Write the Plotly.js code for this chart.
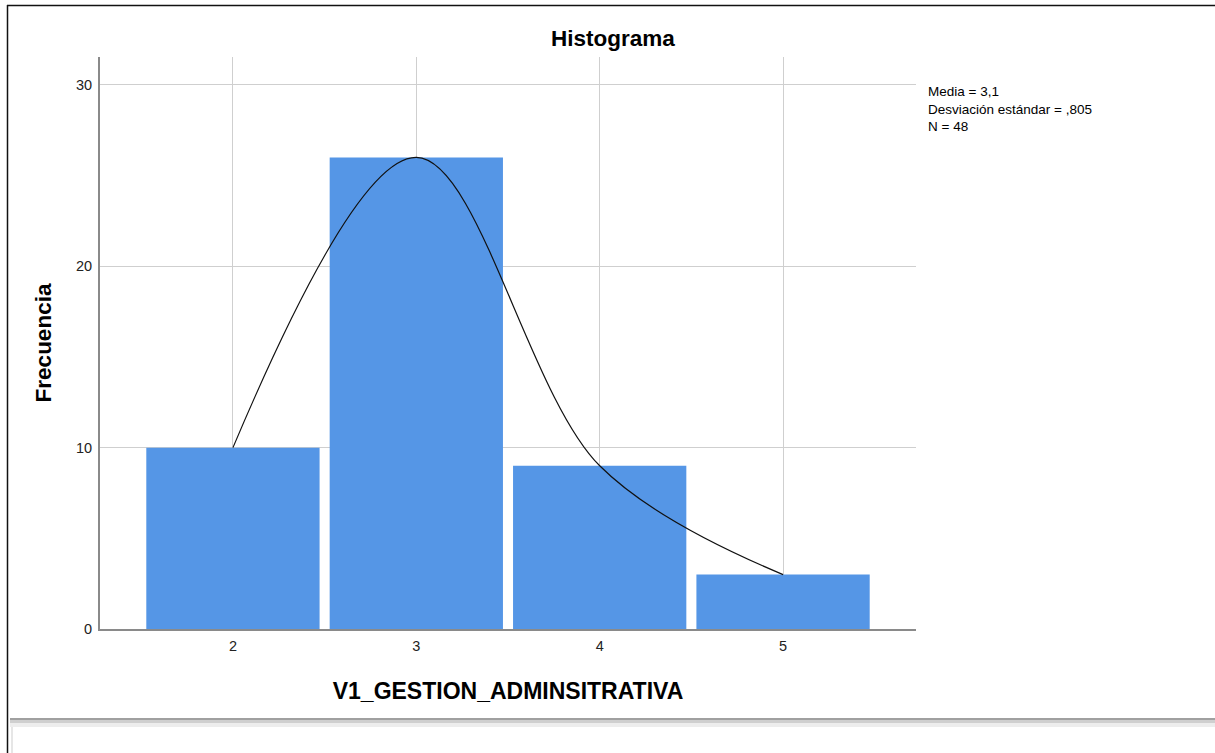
<!DOCTYPE html>
<html>
<head>
<meta charset="utf-8">
<script src="https://cdn.plot.ly/plotly-3.0.1.min.js"></script>
<style>html,body{margin:0;padding:0;background:#fff;}#chart{width:1215px;height:753px;}</style>
</head>
<body>
<div id="chart"></div>
<script>
// Data
const categories = [2, 3, 4, 5];
const frequencies = [10, 26, 9, 3];
const curveX = [2, 3, 4, 5];
const curveY = [10, 26, 9, 3];
const yTicks = [0, 10, 20, 30];
const statsLines = ["Media = 3,1", "Desviación estándar = ,805", "N = 48"];

const L = 100, R = 916, T = 57, B = 629;
const W = 1215, H = 753;
const px = x => (x - L) / (R - L);
const py = y => (B - y) / (B - T);

const traces = [
  {
    type: 'bar', x: categories, y: frequencies, width: 0.945,
    marker: {color: '#5596e6', line: {width: 0}},
    hoverinfo: 'x+y'
  },
  {
    type: 'scatter', mode: 'lines', x: curveX, y: curveY,
    line: {color: '#111', width: 1.2, shape: 'spline', smoothing: 1.0},
    hoverinfo: 'skip'
  }
];

const FF = 'Liberation Sans, Arial, sans-serif';

const layout = {
  width: W, height: H,
  margin: {l: L, r: W - R, t: T, b: H - B, pad: 0},
  paper_bgcolor: '#fff', plot_bgcolor: '#fff',
  showlegend: false,
  font: {family: FF, color: '#222', size: 14},
  title: {text: 'Histograma', font: {size: 22.5, color: '#000', family: FF, weight: 'bold'},
          x: 613 / W, xref: 'container', xanchor: 'center', y: 1 - 38 / H, yref: 'container', yanchor: 'middle'},
  xaxis: {
    range: [1.275, 5.725], tickvals: categories, ticktext: categories.map(String),
    showgrid: true, gridcolor: '#cfcfcf', gridwidth: 1,
    showline: true, linecolor: '#8a8a8a', linewidth: 2, zeroline: false,
    ticks: 'outside', ticklen: 3, tickcolor: 'rgba(0,0,0,0)', tickfont: {size: 14.5, color: '#222'},
    title: {text: 'V1_GESTION_ADMINSITRATIVA', font: {size: 23, color: '#000', weight: 'bold'}, standoff: 29},
    fixedrange: true
  },
  yaxis: {
    range: [0, 31.54], tickvals: yTicks, ticktext: yTicks.map(String),
    showgrid: true, gridcolor: '#cfcfcf', gridwidth: 1,
    showline: true, linecolor: '#8a8a8a', linewidth: 2, zeroline: false,
    ticks: 'outside', ticklen: 3, tickcolor: 'rgba(0,0,0,0)', tickfont: {size: 14.5, color: '#222'},
    title: {text: 'Frecuencia', font: {size: 22.5, color: '#000', weight: 'bold'}, standoff: 18},
    fixedrange: true
  },
  annotations: [{
    xref: 'paper', yref: 'paper', x: px(926), y: py(109), xanchor: 'left', yanchor: 'middle',
    text: statsLines.join('<br>'), showarrow: false, align: 'left',
    font: {size: 13.5, color: '#000', family: FF}
  }],
  shapes: [
    {type: 'line', xref: 'paper', yref: 'paper', x0: px(7), x1: px(1215), y0: py(5.5), y1: py(5.5), line: {color: '#111', width: 1.5}},
    {type: 'line', xref: 'paper', yref: 'paper', x0: px(7.5), x1: px(7.5), y0: py(5), y1: py(753), line: {color: '#111', width: 1.5}},
    {type: 'line', xref: 'paper', yref: 'paper', x0: px(10), x1: px(1215), y0: py(719), y1: py(719), line: {color: '#a0a0a0', width: 2}},
    {type: 'line', xref: 'paper', yref: 'paper', x0: px(10), x1: px(1215), y0: py(721.5), y1: py(721.5), line: {color: '#cfcfcf', width: 3}},
    {type: 'line', xref: 'paper', yref: 'paper', x0: px(10), x1: px(1215), y0: py(725), y1: py(725), line: {color: '#ededed', width: 4}},
    {type: 'line', xref: 'paper', yref: 'paper', x0: px(12), x1: px(12), y0: py(727), y1: py(753), line: {color: '#e6e6e6', width: 2}}
  ]
};

Plotly.newPlot('chart', traces, layout, {displayModeBar: false, staticPlot: true});
</script>
</body>
</html>
